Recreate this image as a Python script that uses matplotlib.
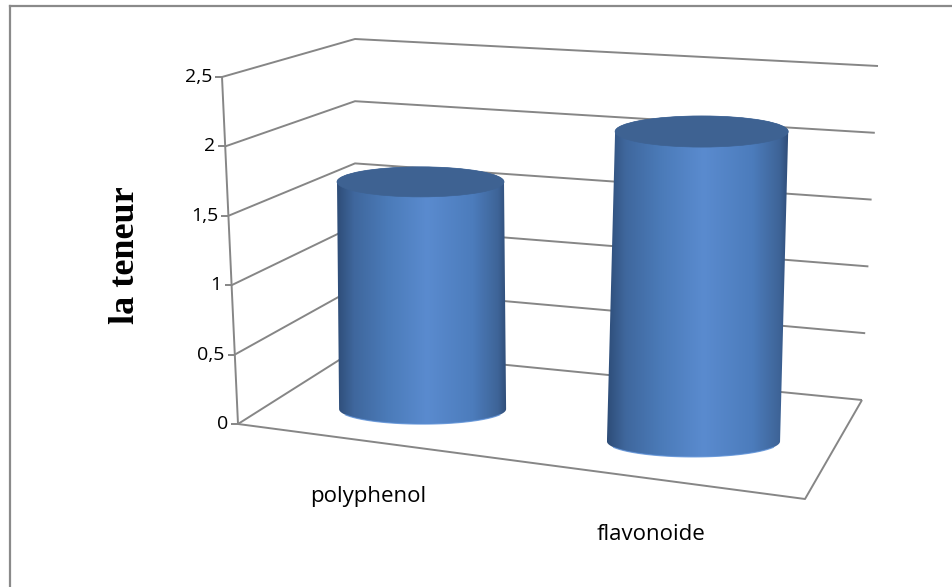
import numpy as np
import matplotlib
matplotlib.use("Agg")
import matplotlib.pyplot as plt
from matplotlib.colors import LinearSegmentedColormap
from matplotlib.patches import Polygon, Ellipse

# ── Data ───────────────────────────────────────────────────────────────────────
categories   = ["polyphenol", "flavonoide"]
values       = [1.68, 2.21]
y_ticks      = [0, 0.5, 1.0, 1.5, 2.0, 2.5]
y_ticklabels = ["0", "0,5", "1", "1,5", "2", "2,5"]
y_label      = "la teneur"
Y_MAX        = 2.5

# ── 3D box: pixel position of each corner ──────────────────────────────────────
# key = (x, y, z): x 0=left/1=right, y 0=floor/1=top, z 0=front/1=back
BOX = {
    (0, 0, 0): (238, 424), (0, 1, 0): (222, 77),
    (0, 0, 1): (355, 350), (0, 1, 1): (355, 39),
    (1, 0, 1): (862, 400), (1, 1, 1): (878, 66),
    (1, 0, 0): (805, 499), (1, 1, 0): (820, 126),
}

GRID_COLOR = "#868686"
TOP_COLOR  = "#3e6292"
RIM_COLOR  = "#5b8fd6"
ZC         = 0.42      # depth of the cylinder axes (0 front, 1 back)
R_SCALE    = 0.247     # cap half-width relative to the local full-scale height
ELL_RATIO  = 0.18      # height / width of the cylinder end caps

cyl_cmap = LinearSegmentedColormap.from_list("cyl", [
    (0.00, "#2e4d78"), (0.10, "#3f679d"), (0.30, "#4b7bb9"),
    (0.53, "#5a8bcf"), (0.80, "#4c7cbc"), (0.95, "#3e6497"), (1.00, "#2f4c77"),
])


def project(x, v, z):
    """Trilinear mapping of (category pos, value, depth) onto the page."""
    x = np.asarray(x, dtype=float)
    y = np.asarray(v, dtype=float) / Y_MAX
    z = np.asarray(z, dtype=float)
    px, py = 0.0, 0.0
    for (i, j, k), (cx, cy) in BOX.items():
        w = (x if i else 1 - x) * (y if j else 1 - y) * (z if k else 1 - z)
        px = px + w * cx
        py = py + w * cy
    return px, py


fig = plt.figure(figsize=(9.52, 5.87), dpi=100)
ax = fig.add_axes([0, 0, 1, 1])

line_kw = dict(color=GRID_COLOR, lw=1.4, solid_capstyle="butt", zorder=1)

# ── Walls: gridlines on the left side wall and back wall ──────────────────────
for v in y_ticks:
    xs, ys = project([0, 0, 1], [v, v, v], [0, 1, 1])
    ax.plot(xs, ys, **line_kw)

# floor front + right edges, and the value axis
xs, ys = project([0, 1, 1], [0, 0, 0], [0, 0, 1])
ax.plot(xs, ys, **line_kw)
xs, ys = project([0, 0], [0, Y_MAX], [0, 0])
ax.plot(xs, ys, **line_kw)

# ticks + labels
for v, lab in zip(y_ticks, y_ticklabels):
    tx, ty = project(0, v, 0)
    ax.plot([tx - 7, tx], [ty, ty], **line_kw)
    ax.text(tx - 10, ty, lab, ha="right", va="center",
            fontsize=14, family="Open Sans", color="#000000")

# ── Cylinders ─────────────────────────────────────────────────────────────────
n = len(categories)
centers = [(i + 0.5) / n for i in range(n)]
grad = np.linspace(0, 1, 256).reshape(1, -1)
t_low = np.linspace(np.pi, 0, 120)      # lower arc, left -> right (y down)
t_up = np.linspace(0, -np.pi, 120)      # upper arc, right -> left

for xc, val in zip(centers, values):
    bx, by = project(xc, 0, ZC)
    tx, ty = project(xc, val, ZC)
    _, full_y = project(xc, Y_MAX, ZC)
    a = R_SCALE * (by - full_y)          # nearer cylinders come out wider
    b = a * ELL_RATIO

    low = np.c_[bx + a * np.cos(t_low), by + b * np.sin(t_low)]
    outline = np.vstack([low, np.c_[tx + a * np.cos(t_up), ty + b * np.sin(t_up)]])
    body = Polygon(outline, closed=True, facecolor="none", edgecolor="none", zorder=2)
    ax.add_patch(body)
    x0, x1 = outline[:, 0].min(), outline[:, 0].max()
    y0, y1 = outline[:, 1].min(), outline[:, 1].max()
    im = ax.imshow(grad, cmap=cyl_cmap, extent=(x0, x1, y1, y0),
                   aspect="auto", interpolation="bilinear", zorder=3)
    im.set_clip_path(body)
    ax.plot(low[15:-15, 0], low[15:-15, 1], color=RIM_COLOR, lw=0.9, alpha=0.8, zorder=3.5)
    ax.add_patch(Ellipse((tx, ty), 2 * a, 2 * b, facecolor=TOP_COLOR,
                         edgecolor=TOP_COLOR, lw=0.5, zorder=4))

# category labels under the floor
for xc, cat in zip(centers, categories):
    lx, ly = project(xc, 0, 0)
    ax.text(lx - 12, ly + 54, cat, ha="center", va="center",
            fontsize=16, family="Open Sans", color="#000000")

ax.text(125, 255, y_label, rotation=90, ha="center", va="center",
        fontsize=26, fontweight="bold", family="Liberation Serif")

# chart frame (left and top edges)
ax.plot([9.5, 9.5], [6, 587], color="#8a8a8a", lw=1.6, zorder=5)
ax.plot([9.5, 952], [6, 6], color="#8a8a8a", lw=1.6, zorder=5)

ax.set_xlim(0, 952)
ax.set_ylim(587, 0)
ax.axis("off")

fig.savefig("out.png", dpi=100)
